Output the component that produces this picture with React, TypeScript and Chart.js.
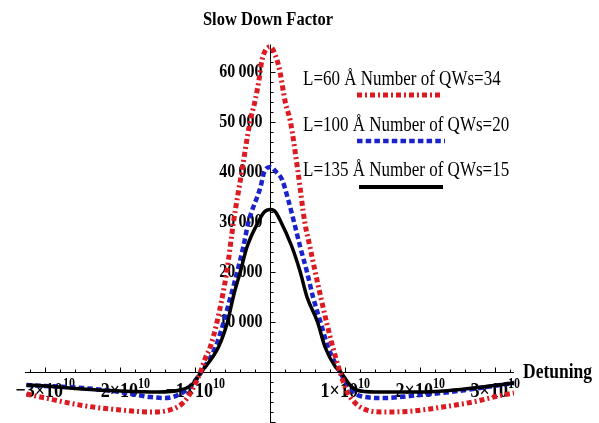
import React, { useEffect, useRef } from "react";
import { Chart, registerables } from "chart.js";

Chart.register(...registerables);

// ---------- data (detuning, slow down factor) ----------
const redX = [-3.25e10, -3.0e10, -2.5e10, -2.0e10, -1.6e10, -1.3e10, -1.15e10, -1.05e10, -0.93e10, -0.87e10, -0.8e10, -0.71e10, -0.58e10, -0.49e10, -0.38e10, -0.27e10, -0.2e10, -0.15e10, -0.11e10, 0, 0.09e10, 0.13e10, 0.2e10, 0.27e10, 0.37e10, 0.46e10, 0.53e10, 0.6e10, 0.75e10, 0.87e10, 0.93e10, 1.02e10, 1.12e10, 1.25e10, 1.5e10, 1.9e10, 2.3e10, 2.7e10, 3.1e10, 3.25e10];
const redY = [-4400, -5200, -6700, -7600, -8000, -7400, -6000, -3800, 0, 2600, 5000, 10000, 20000, 30000, 40000, 50000, 54400, 58400, 62400, 65000, 62400, 60000, 54000, 50000, 40000, 30000, 25000, 20000, 10000, 3000, 0, -3800, -6000, -7400, -8000, -7800, -7000, -6000, -4600, -4200];

const blueX = [-3.25e10, -3.0e10, -2.5e10, -2.0e10, -1.6e10, -1.4e10, -1.2e10, -1.05e10, -0.92e10, -0.73e10, -0.62e10, -0.53e10, -0.44e10, -0.36e10, -0.29e10, -0.13e10, -0.08e10, 0, 0.08e10, 0.16e10, 0.24e10, 0.31e10, 0.4e10, 0.49e10, 0.57e10, 0.67e10, 0.77e10, 0.93e10, 1.05e10, 1.2e10, 1.5e10, 2.0e10, 2.4e10, 2.8e10, 3.25e10];
const blueY = [-2600, -2800, -3200, -4000, -5000, -5200, -4400, -2600, 0, 5000, 10000, 15000, 20000, 25000, 30000, 37000, 40000, 41000, 40000, 38400, 34400, 30400, 25000, 20000, 15000, 10000, 5000, 0, -3000, -4800, -5200, -4600, -4000, -3200, -2200];

const blackX = [-3.25e10, -3.0e10, -2.5e10, -2.0e10, -1.5e10, -1.2e10, -1.05e10, -0.92e10, -0.69e10, -0.57e10, -0.49e10, -0.4e10, -0.31e10, -0.16e10, -0.08e10, 0, 0.06e10, 0.13e10, 0.29e10, 0.4e10, 0.49e10, 0.63e10, 0.73e10, 0.87e10, 0.94e10, 1.05e10, 1.15e10, 1.4e10, 2.0e10, 2.3e10, 2.7e10, 3.25e10];
const blackY = [-2600, -2800, -3400, -3800, -4000, -3600, -2600, 0, 5000, 10000, 15200, 20000, 25000, 30000, 32000, 32500, 32200, 30400, 25000, 20000, 15000, 10000, 5000, 1000, 0, -2400, -3600, -4000, -4000, -3800, -3200, -2200];

const seriesLabels = [
  "L=60 Å Number of QWs=34",
  "L=100 Å Number of QWs=20",
  "L=135 Å Number of QWs=15",
];

const xTickValues = [-3e10, -2e10, -1e10, 1e10, 2e10, 3e10];
const xTickCoeffs = ["\u22123", "\u22122", "\u22121", "1", "2", "3"];
const xTickExp = "10";
const yTickValues = [10000, 20000, 30000, 40000, 50000, 60000];
const yTickLabels = ["10\u2009000", "20\u2009000", "30\u2009000", "40\u2009000", "50\u2009000", "60\u2009000"];
const X_MINOR_STEP = 0.2e10;
const Y_MINOR_STEP = 2000;

const title = "Slow Down Factor";
const xAxisTitle = "Detuning";

// ---------- styles ----------
const FONT = "'Liberation Serif', 'Times New Roman', serif";
const SY = 1.18; // vertical text stretch of the reference
const RED = "#dc1a22";
const BLUE = "#1a22cc";
const BLACK = "#000000";
const RED_DASH = [5, 3, 2, 3];
const BLUE_DASH = [5.5, 3.2];

function txt(ctx: CanvasRenderingContext2D, s: string, x: number, y: number, font: string, align: CanvasTextAlign, base: CanvasTextBaseline) {
  ctx.save();
  ctx.translate(x, y);
  ctx.scale(1, SY);
  ctx.font = font;
  ctx.textAlign = align;
  ctx.textBaseline = base;
  ctx.fillStyle = "#000";
  ctx.fillText(s, 0, 0);
  ctx.restore();
}

const axesPlugin = {
  id: "mathAxes",
  beforeDatasetsDraw(chart: any) {
    const ctx: CanvasRenderingContext2D = chart.ctx;
    const xs = chart.scales.x;
    const ys = chart.scales.y;
    const x0 = Math.round(xs.getPixelForValue(0)) + 0.5;
    const y0 = Math.round(ys.getPixelForValue(0)) + 0.5;
    ctx.save();
    ctx.strokeStyle = "#000";
    ctx.lineWidth = 1;
    ctx.beginPath();
    ctx.moveTo(xs.left, y0);
    ctx.lineTo(xs.right, y0);
    ctx.moveTo(x0, ys.getPixelForValue(65500));
    ctx.lineTo(x0, ys.bottom);
    // x ticks
    for (let k = -20; k <= 20; k++) {
      const v = k * X_MINOR_STEP;
      if (v < xs.min || v > xs.max || k === 0) continue;
      const px = Math.round(xs.getPixelForValue(v)) + 0.5;
      const len = k % 5 === 0 ? 5 : 3;
      ctx.moveTo(px, y0);
      ctx.lineTo(px, y0 - len);
    }
    // y ticks
    for (let k = -10; k <= 40; k++) {
      const v = k * Y_MINOR_STEP;
      if (v < ys.min || v > 65000 || k === 0) continue;
      const py = Math.round(ys.getPixelForValue(v)) + 0.5;
      const len = k % 5 === 0 ? 5 : 3;
      ctx.moveTo(x0, py);
      ctx.lineTo(x0 + len, py);
    }
    ctx.stroke();
    ctx.restore();

    // y tick labels
    yTickValues.forEach((v, i) => {
      txt(ctx, yTickLabels[i], x0 - 8, ys.getPixelForValue(v), `bold 16px ${FONT}`, "right", "middle");
    });
    // x tick labels
    const mainFont = `bold 18px ${FONT}`;
    const supFont = `bold 12px ${FONT}`;
    xTickValues.forEach((v, i) => {
      const main = `${xTickCoeffs[i]}\u00d710`;
      ctx.font = mainFont;
      const wm = ctx.measureText(main).width;
      ctx.font = supFont;
      const ws = ctx.measureText(xTickExp).width;
      const px = xs.getPixelForValue(v);
      const start = px - (wm + ws) / 2;
      txt(ctx, main, start, y0 + 24, mainFont, "left", "alphabetic");
      txt(ctx, xTickExp, start + wm, y0 + 15, supFont, "left", "alphabetic");
    });
    // titles
    txt(ctx, title, 268, 20, `bold 16.5px ${FONT}`, "center", "middle");
    txt(ctx, xAxisTitle, xs.right + 9, y0, `bold 17.5px ${FONT}`, "left", "middle");
  },
  afterDatasetsDraw(chart: any) {
    const ctx: CanvasRenderingContext2D = chart.ctx;
    const items = [
      { ty: 80, ly: 95, x1: 357, x2: 441, color: RED, dash: RED_DASH, w: 5 },
      { ty: 126, ly: 141, x1: 357, x2: 445, color: BLUE, dash: BLUE_DASH, w: 4.5 },
      { ty: 171, ly: 187, x1: 359, x2: 443, color: BLACK, dash: [] as number[], w: 4 },
    ];
    items.forEach((it, i) => {
      txt(ctx, seriesLabels[i], 303, it.ty, `17px ${FONT}`, "left", "middle");
      ctx.save();
      ctx.strokeStyle = it.color;
      ctx.lineWidth = it.w;
      ctx.setLineDash(it.dash);
      ctx.beginPath();
      ctx.moveTo(it.x1, it.ly);
      ctx.lineTo(it.x2, it.ly);
      ctx.stroke();
      ctx.restore();
    });
  },
};

function zip(xs: number[], ys: number[]) {
  return xs.map((x, i) => ({ x, y: ys[i] }));
}

export default function App() {
  const ref = useRef<HTMLCanvasElement | null>(null);
  useEffect(() => {
    document.body.style.margin = "0";
    const canvas = ref.current;
    if (!canvas) return;
    const chart = new Chart(canvas, {
      type: "line",
      data: {
        datasets: [
          { label: seriesLabels[0], data: zip(redX, redY), borderColor: RED, borderWidth: 5, borderDash: RED_DASH, pointRadius: 0, fill: false, cubicInterpolationMode: "monotone", order: 0 },
          { label: seriesLabels[1], data: zip(blueX, blueY), borderColor: BLUE, borderWidth: 4.5, borderDash: BLUE_DASH, pointRadius: 0, fill: false, cubicInterpolationMode: "monotone", order: 2 },
          { label: seriesLabels[2], data: zip(blackX, blackY), borderColor: BLACK, borderWidth: 3.5, pointRadius: 0, fill: false, cubicInterpolationMode: "monotone", order: 1 },
        ],
      },
      options: {
        animation: false,
        responsive: true,
        maintainAspectRatio: false,
        layout: { padding: { left: 25, right: 85, top: 40, bottom: 0 } },
        scales: {
          x: { type: "linear", min: -3.27e10, max: 3.25e10, display: false },
          y: { type: "linear", min: -10200, max: 66400, display: false },
        },
        plugins: { legend: { display: false }, tooltip: { enabled: false }, title: { display: false } },
      },
      plugins: [axesPlugin],
    } as any);
    return () => chart.destroy();
  }, []);
  return (
    <div style={{ position: "relative", width: 599, height: 423, background: "#fff" }}>
      <canvas ref={ref} />
    </div>
  );
}
